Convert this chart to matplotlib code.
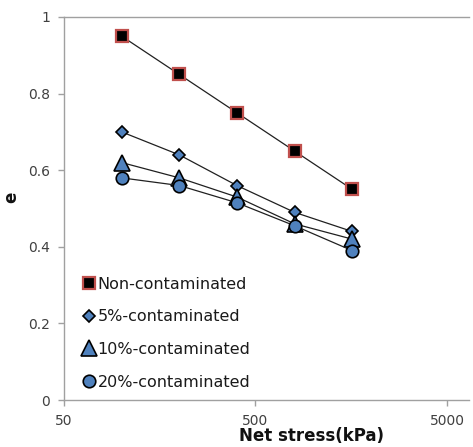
import matplotlib
matplotlib.use("Agg")
import matplotlib.pyplot as plt
from matplotlib.ticker import FixedLocator, NullLocator

stress = [100, 200, 400, 800, 1600]
e_non = [0.95, 0.85, 0.75, 0.65, 0.55]
e_5 = [0.70, 0.64, 0.56, 0.49, 0.44]
e_10 = [0.62, 0.58, 0.53, 0.46, 0.42]
e_20 = [0.58, 0.56, 0.515, 0.455, 0.39]

labels = ["Non-contaminated", "5%-contaminated", "10%-contaminated", "20%-contaminated"]
xticks = [50, 500, 5000]
yticks = [0, 0.2, 0.4, 0.6, 0.8, 1]

BLUE = "#4f81bd"
RED = "#c0504d"
GRAY = "#a0a0a0"
TXT = "#404040"

fig = plt.figure(figsize=(4.73, 4.47), dpi=100)
ax = fig.add_axes([0.1353, 0.1051, 0.8562, 0.8569])

ax.plot(stress, e_non, color="#202020", lw=0.9, marker="s", ms=8.5,
        mfc="black", mec=RED, mew=1.6, label=labels[0])
ax.plot(stress, e_5, color="#202020", lw=0.9, marker="D", ms=6.5,
        mfc=BLUE, mec="black", mew=1.2, label=labels[1])
ax.plot(stress, e_10, color="#202020", lw=0.9, marker="^", ms=12,
        mfc=BLUE, mec="black", mew=1.2, label=labels[2])
ax.plot(stress, e_20, color="#202020", lw=0.9, marker="o", ms=9,
        mfc=BLUE, mec="black", mew=1.2, label=labels[3])

ax.set_xscale("log")
ax.set_xlim(50, 6515)
ax.set_ylim(0, 1)
ax.xaxis.set_major_locator(FixedLocator(xticks))
ax.xaxis.set_minor_locator(NullLocator())
ax.set_xticklabels([str(t) for t in xticks])
ax.set_yticks(yticks)
ax.set_yticklabels(["0", "0.2", "0.4", "0.6", "0.8", "1"])

for s in ("left", "bottom", "top"):
    ax.spines[s].set_color(GRAY)
    ax.spines[s].set_linewidth(1.0)
ax.spines["right"].set_visible(False)
ax.tick_params(axis="both", colors=GRAY, labelcolor=TXT, labelsize=10,
               length=4, width=1, direction="out")
ax.tick_params(axis="x", pad=6)
ax.tick_params(axis="y", pad=6)

ax.set_xlabel("Net stress(kPa)", fontsize=12, fontweight="bold", color="#111111")
ax.xaxis.set_label_coords(0.612, -0.070)
ax.set_ylabel("e", fontsize=12, fontweight="bold", color="#111111")
ax.yaxis.set_label_coords(-0.109, 0.53)

leg = ax.legend(loc="lower left", bbox_to_anchor=(0.02, 0.0), frameon=False,
                fontsize=11.5, handlelength=0.8, handletextpad=0.15, labelspacing=1.1,
                borderaxespad=0.25)
for line in leg.get_lines():
    line.set_linestyle("none")
for t in leg.get_texts():
    t.set_color("#1a1a1a")

fig.savefig("out.png", dpi=100, facecolor="white")
